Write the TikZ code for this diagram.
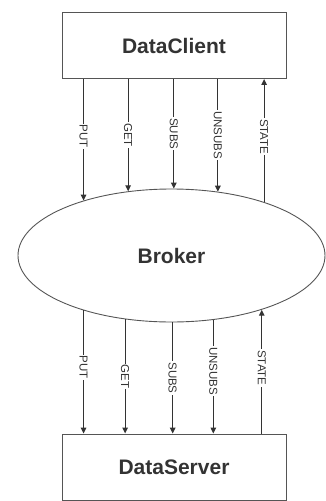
\documentclass[tikz,border=0pt]{standalone}
\usepackage{fontspec}
\setmainfont{Liberation Sans}
\usetikzlibrary{shapes.geometric,arrows.meta}
\definecolor{ink}{HTML}{333333}
\definecolor{edge}{HTML}{555555}
\tikzset{
  box/.style={draw=edge, line width=0.9pt, minimum width=224pt, minimum height=66pt, inner sep=0pt,
    font=\fontsize{21}{24}\selectfont\bfseries, text=ink},
  brk/.style={draw=edge, line width=0.9pt, ellipse, minimum width=307pt, minimum height=133pt, inner sep=0pt,
    font=\fontsize{21}{24}\selectfont\bfseries, text=ink},
  msg/.style={line width=1.2pt, draw=ink, -{Triangle[length=6pt,width=5.5pt]}},
  lbl/.style={fill=white, rotate=-90, inner sep=1pt, font=\fontsize{11.5}{13}\selectfont, text=ink}
}
\begin{document}
\begin{tikzpicture}[x=1pt,y=-1pt]
\useasboundingbox (0,0) rectangle (326,501);
\node[box] (client) at (174,45.5) {DataClient};
\node[box] (server) at (174,467) {DataServer};
\node[brk] (broker) at (171.5,255.5) {Broker};
% border points on broker
\coordinate (t1) at (broker.148.0);
\coordinate (t2) at (broker.124.3);
\coordinate (t3) at (broker.88.7);
\coordinate (t4) at (broker.54.4);
\coordinate (t5) at (broker.30.7);
\coordinate (b1) at (broker.212.85);
\coordinate (b2) at (broker.234.4);
\coordinate (b3) at (broker.271.3);
\coordinate (b4) at (broker.303.6);
\coordinate (b5) at (broker.329.3);
% top connectors
\draw[msg] (t1 |- client.south) -- node[lbl, pos=0.47] {PUT} (t1);
\draw[msg] (t2 |- client.south) -- node[lbl, pos=0.5] {GET} (t2);
\draw[msg] (t3 |- client.south) -- node[lbl, pos=0.5] {SUBS} (t3);
\draw[msg] (t4 |- client.south) -- node[lbl, pos=0.5] {UNSUBS} (t4);
\draw[msg] (t5) -- node[lbl, pos=0.53] {STATE} (t5 |- client.south);
% bottom connectors
\draw[msg] (b1) -- node[lbl, pos=0.46] {PUT} (b1 |- server.north);
\draw[msg] (b2) -- node[lbl, pos=0.5] {GET} (b2 |- server.north);
\draw[msg] (b3) -- node[lbl, pos=0.5] {SUBS} (b3 |- server.north);
\draw[msg] (b4) -- node[lbl, pos=0.45] {UNSUBS} (b4 |- server.north);
\draw[msg] (b5 |- server.north) -- node[lbl, pos=0.53] {STATE} (b5);
\end{tikzpicture}
\end{document}
